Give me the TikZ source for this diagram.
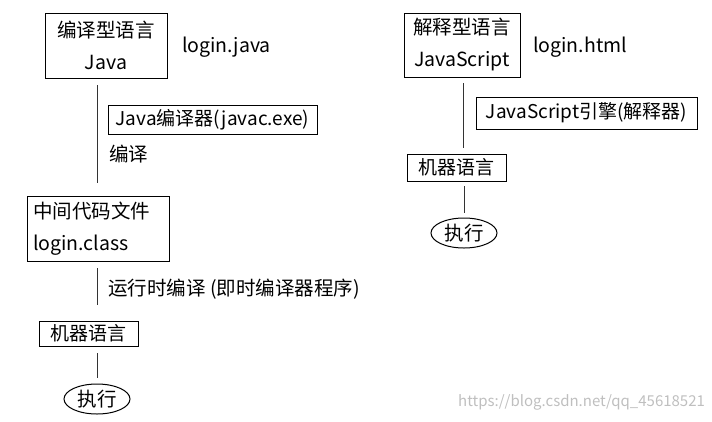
\documentclass[tikz,border=0pt]{standalone}
\usepackage{fontspec}
\setmainfont{Noto Sans CJK SC}
\usetikzlibrary{shapes.geometric}
\begin{document}
\begin{tikzpicture}[x=1pt,y=-1pt,
  bx/.style={draw,line width=1pt,inner sep=0pt,align=center,font=\fontsize{19.5}{32}\selectfont},
  sbx/.style={draw,line width=1pt,inner sep=0pt,font=\fontsize{19}{22}\selectfont},
  lab/.style={inner sep=0pt,font=\fontsize{19.5}{22}\selectfont,anchor=west},
  ov/.style={draw,ellipse,line width=1pt,inner sep=0pt,minimum width=66pt,minimum height=30pt,font=\fontsize{19.5}{22}\selectfont},
  ln/.style={line width=1pt,draw=black!80}]
\useasboundingbox (0,0) rectangle (712,421);
% left
\node[bx,minimum width=122pt,minimum height=65pt] (a1) at (106,45.5) {编译型语言\\Java};
\node[lab] (a1l) at (182,47) {login.java};
\node[sbx,minimum width=209pt,minimum height=29pt] (a2) at (212.5,119.5) {Java编译器(javac.exe)};
\node[lab] (a2l) at (109,154) {编译};
\node[bx,minimum width=142pt,minimum height=65pt,align=left,text width=130pt] (a3) at (98,228.5) {中间代码文件\\login.class};
\node[lab] (a3l) at (108,289) {运行时编译 (即时编译器程序)};
\node[sbx,minimum width=99pt,minimum height=25pt] (a4) at (88.5,333.5) {机器语言};
\node[ov] (a5) at (97,399) {执行};
\draw[ln] (97,85) coordinate (p1) -- (97,183) coordinate (p2);
\draw[ln] (97,268) coordinate (p3) -- (97,305) coordinate (p4);
\draw[ln] (97,353) coordinate (p5) -- (97,378) coordinate (p6);
% right
\node[bx,minimum width=116pt,minimum height=64pt] (b1) at (462,45) {解释型语言\\JavaScript};
\node[lab] (b1l) at (533,47) {login.html};
\node[sbx,minimum width=221pt,minimum height=32pt] (b2) at (586.5,113) {JavaScript引擎(解释器)};
\node[sbx,minimum width=99pt,minimum height=27pt] (b3) at (456.5,167.5) {机器语言};
\node[ov] (b4) at (464,233) {执行};
\draw[ln] (463,83) coordinate (q1) -- (463,148) coordinate (q2);
\draw[ln] (464,186) coordinate (q3) -- (464,213) coordinate (q4);
\node[inner sep=0pt,anchor=west,text=black!25,font=\fontsize{15}{17}\selectfont] (wm) at (458,402) {https://blog.csdn.net/qq\_45618521};
\end{tikzpicture}
\end{document}
